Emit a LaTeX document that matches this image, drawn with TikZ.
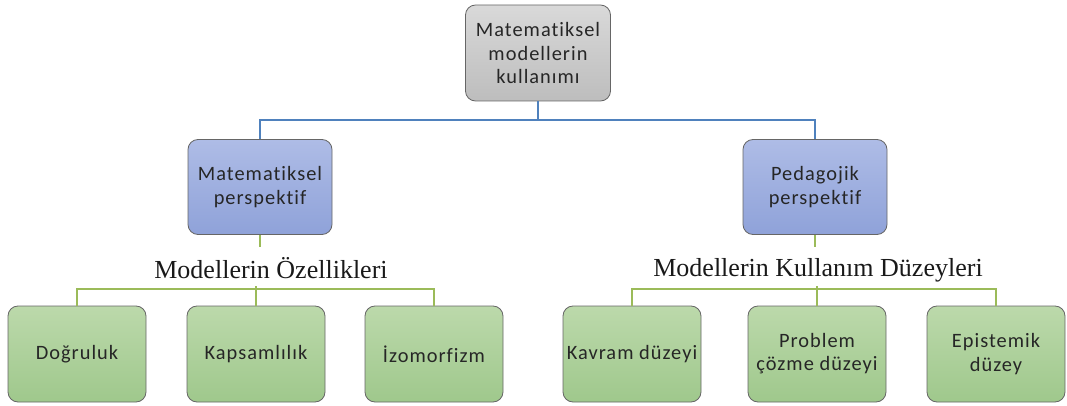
\documentclass[tikz,border=0pt]{standalone}
\usepackage{fontspec}
\usepackage{xcolor}
\usepackage{tikz}
\usetikzlibrary{positioning}
\newfontfamily\boxfont[LetterSpace=5,Ligatures=NoCommon]{Carlito}
\newfontfamily\lblfont{Liberation Serif}
\definecolor{linkblue}{HTML}{4F81BD}
\definecolor{linkgreen}{HTML}{9BBB59}
\definecolor{graytop}{HTML}{D9D9D9}
\definecolor{graybot}{HTML}{BDBDBD}
\definecolor{bluetop}{HTML}{AEBCE6}
\definecolor{bluebot}{HTML}{8FA2D9}
\definecolor{greentop}{HTML}{BCD9AB}
\definecolor{greenbot}{HTML}{9FC88C}

\begin{document}
\begin{tikzpicture}[
box/.style={rectangle, rounded corners=2.5mm, draw=black!60, line width=0.6pt,
  align=center, text=black!85, inner sep=2pt,
  font=\boxfont\fontsize{14.5}{16.5}\selectfont},
topbox/.style={box, minimum width=3.625cm, minimum height=2.4cm,
  top color=graytop, bottom color=graybot},
midbox/.style={box, minimum width=3.6cm, minimum height=2.375cm,
  top color=bluetop, bottom color=bluebot},
leafbox/.style={box, minimum width=3.45cm, minimum height=2.4cm,
  top color=greentop, bottom color=greenbot},
lbl/.style={font=\lblfont\fontsize{18.5}{20}\selectfont, text=black!90, inner sep=1pt},
bline/.style={draw=linkblue, line width=0.9pt},
gline/.style={draw=linkgreen, line width=0.9pt}]
\useasboundingbox (0,0) rectangle (26.675,10.125);
\node[topbox] (top) at (13.45,8.8) {Matematiksel\\modellerin\\kullanımı};
\node[midbox] (mat) at (6.5,5.45) {Matematiksel\\perspektif};
\node[midbox] (ped) at (20.375,5.45) {Pedagojik\\perspektif};
\node[lbl] (ozl) at (6.775,3.42) {Modellerin Özellikleri};
\node[lbl] (kul) at (20.45,3.37) {Modellerin Kullanım Düzeyleri};
\node[leafbox] (dog) at (1.925,1.275) {Doğruluk};
\node[leafbox] (kap) at (6.4,1.275) {Kapsamlılık};
\node[leafbox] (izo) at (10.85,1.275) {İzomorfizm};
\node[leafbox] (kav) at (15.8,1.275) {Kavram düzeyi};
\node[leafbox] (pro) at (20.425,1.275) {Problem\\çözme düzeyi};
\node[leafbox] (epi) at (24.9,1.275) {Epistemik\\düzey};
% top level
\coordinate (jt) at (13.45,7.125);
\draw[bline] (top.south) -- (jt);
\draw[bline] (jt) -| (mat.north);
\draw[bline] (jt) -| (ped.north);
% perspectives
\draw[gline] (mat.south) -- ++(0,-0.3);
\draw[gline] (ped.south) -- ++(0,-0.3);
% properties
\coordinate (jl) at (6.4,2.9);
\draw[gline] (jl) -- ++(0,0.08);
\draw[gline] (jl) -| (dog.north);
\draw[gline] (jl) -- (kap.north);
\draw[gline] (jl) -| (izo.north);
% levels
\coordinate (jr) at (20.425,2.9);
\draw[gline] (jr) -- ++(0,0.08);
\draw[gline] (jr) -| (kav.north);
\draw[gline] (jr) -- (pro.north);
\draw[gline] (jr) -| (epi.north);
\end{tikzpicture}
\end{document}
